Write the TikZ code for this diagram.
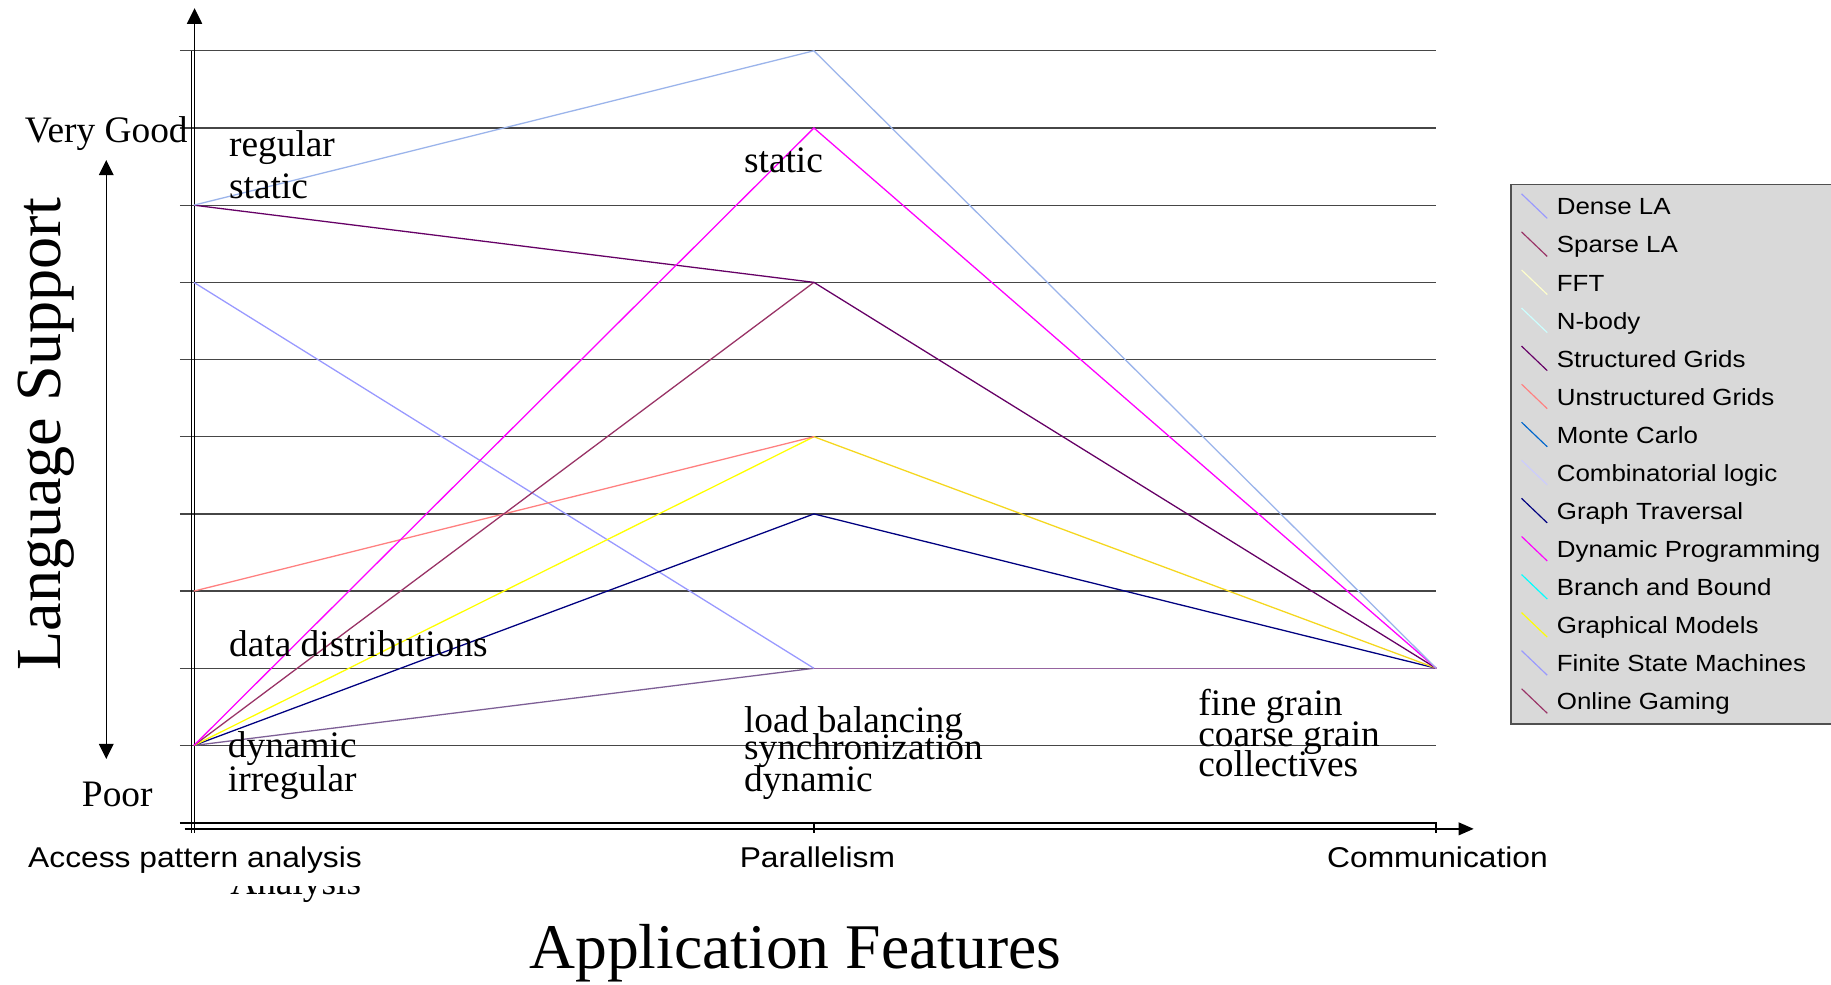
\documentclass[tikz,border=0pt]{standalone}
\usepackage{fontspec}
\setmainfont{Liberation Serif}
\newfontfamily\arialf{Liberation Sans}
\usetikzlibrary{arrows.meta}
\definecolor{cDense}{RGB}{155,180,235}
\definecolor{cLegDense}{RGB}{153,153,255}
\definecolor{cSparse}{RGB}{153,51,102}
\definecolor{cFFT}{RGB}{255,255,204}
\definecolor{cNbody}{RGB}{204,255,255}
\definecolor{cStruct}{RGB}{102,0,102}
\definecolor{cUnstruct}{RGB}{255,128,128}
\definecolor{cMonte}{RGB}{0,102,204}
\definecolor{cComb}{RGB}{204,204,255}
\definecolor{cGraph}{RGB}{0,0,128}
\definecolor{cDyn}{RGB}{255,0,255}
\definecolor{cBranch}{RGB}{0,255,255}
\definecolor{cGM}{RGB}{255,255,0}
\definecolor{cGMdark}{RGB}{245,215,30}
\definecolor{cFSM}{RGB}{153,153,255}
\definecolor{cMix}{RGB}{125,95,150}
\definecolor{cMixR}{RGB}{150,100,160}
\definecolor{gridc}{RGB}{70,70,70}
\definecolor{legfill}{RGB}{217,217,217}
\definecolor{legborder}{RGB}{80,80,80}
\tikzset{
  gridline/.style={draw=gridc, line width=1.1pt},
  axisline/.style={draw=black, line width=1.3pt},
  series/.style={line width=1.1pt},
  serif/.style={inner sep=0pt, font=\fontsize{32}{32}\selectfont},
  sanslab/.style={inner sep=0pt, font=\arialf\fontsize{24.5}{28}\selectfont},
  legtext/.style={inner sep=0pt, anchor=base west, font=\arialf\fontsize{20}{24}\selectfont},
  legmark/.style={line width=1pt},
}
\begin{document}
\begin{tikzpicture}[x=1pt,y=-1pt]
\useasboundingbox (0,0) rectangle (1568,843);
\fill[white] (0,0) rectangle (1568,843);

% grid
\foreach \k in {0,...,9} {
  \draw[gridline] (154,43.5+66.1*\k) -- (1230,43.5+66.1*\k);
}
\draw[draw=black, line width=1.6pt] (154,704.5) -- (1230,704.5) -- (1230,713);
\draw[axisline] (697,704.5) -- (697,713);

% axes
\draw[axisline] (164,43.5) -- (164,713);
\draw[axisline, -{Triangle[length=13.5pt,width=13pt]}] (166.6,713) -- (166.6,7);
\draw[axisline, -{Triangle[length=13pt,width=11pt]}] (158,709.8) -- (1262,709.8);
\draw[axisline, {Triangle[length=13pt,width=12.5pt]}-{Triangle[length=13pt,width=12.5pt]}] (91,137) -- (91,650);

% data points
\coordinate (a2) at (166,175.7);
\coordinate (a3) at (166,241.8);
\coordinate (a7) at (166,506.2);
\coordinate (a9) at (166,638.4);
\coordinate (p0) at (697,43.5);
\coordinate (p1) at (697,109.6);
\coordinate (p3) at (697,241.8);
\coordinate (p5) at (697,374.0);
\coordinate (p6) at (697,440.1);
\coordinate (p8) at (697,572.3);
\coordinate (c8) at (1230,572.3);

% series
\draw[series, cMix] (a9) -- (p8);
\draw[series, cMixR] (p8) -- (c8);
\draw[series, cFSM] (a3) -- (p8);
\draw[series, cGraph] (a9) -- (p6) -- (c8);
\draw[series, cGM] (a9) -- (p5);
\draw[series, cGMdark] (p5) -- (c8);
\draw[series, cUnstruct] (a7) -- (p5);
\draw[series, cSparse] (a9) -- (p3);
\draw[series, cStruct] (a2) -- (p3) -- (c8);
\draw[series, cDyn] (a9) -- (p1) -- (c8);
\draw[series, cDense] (a2) -- (p0) -- (c8);

% serif labels
\node[serif, anchor=base west] (vg) at (21,122) {Very Good};
\node[serif, anchor=base west] (poor) at (70,691) {Poor};
\node[serif, anchor=base west] (reg) at (196,134) {regular};
\node[serif, anchor=base west] (sta) at (196,170) {static};
\node[serif, anchor=base west] (sta2) at (637,148) {static};
\node[serif, anchor=base west] (dd) at (196,562) {data distributions};
\node[serif, anchor=base west] (dyn) at (195,649) {dynamic};
\node[serif, anchor=base west] (irr) at (195,678) {irregular};
\node[serif, anchor=base west] (lb) at (637,627) {load balancing};
\node[serif, anchor=base west] (syn) at (637,650) {synchronization};
\node[serif, anchor=base west] (dyn2) at (637,678) {dynamic};
\node[serif, anchor=base west] (fg) at (1026,613) {fine grain};
\node[serif, anchor=base west] (cg) at (1026,639) {coarse grain};
\node[serif, anchor=base west] (col) at (1026,665) {collectives};
\begin{scope}
  \clip (180,759) rectangle (330,778);
  \node[serif, anchor=base west] (ana) at (197,766) {Analysis};
\end{scope}

% axis titles
\node[inner sep=0pt, anchor=base, rotate=90, font=\fontsize{55}{55}\selectfont] (ls) at (52,372) {Language Support};
\node[inner sep=0pt, anchor=base, font=\fontsize{54.5}{55}\selectfont] (af) at (681,829) {Application Features};

% category labels
\node[sanslab, anchor=base] (acc) at (167,743) {\scalebox{1.11}[1]{Access pattern analysis}};
\node[sanslab, anchor=base] (par) at (700,743) {\scalebox{1.11}[1]{Parallelism}};
\node[sanslab, anchor=base] (com) at (1231,743) {\scalebox{1.11}[1]{Communication}};

% legend
\draw[fill=legfill, draw=legborder, line width=1pt] (1294,158) rectangle (1580,620);
\foreach \t/\c [count=\i from 0] in {Dense LA/cLegDense, Sparse LA/cSparse, FFT/cFFT, N-body/cNbody, Structured Grids/cStruct, Unstructured Grids/cUnstruct, Monte Carlo/cMonte, Combinatorial logic/cComb, Graph Traversal/cGraph, Dynamic Programming/cDyn, Branch and Bound/cBranch, Graphical Models/cGM, Finite State Machines/cFSM, Online Gaming/cSparse} {
  \pgfmathsetmacro\yy{177+32.6*\i}
  \draw[legmark, \c] (1303,\yy-11) -- (1325,\yy+10);
  \node[legtext] (leg\i) at (1333,\yy+7) {\scalebox{1.11}[1]{\t}};
}
\end{tikzpicture}
\end{document}
